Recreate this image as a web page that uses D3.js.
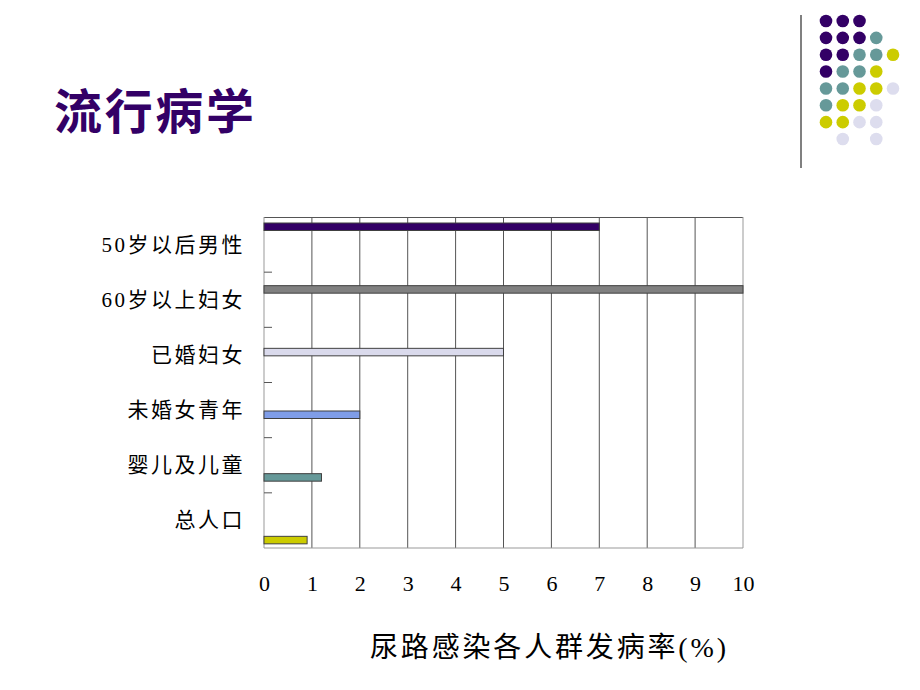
<!DOCTYPE html>
<html>
<head>
<meta charset="utf-8">
<script src="https://cdn.jsdelivr.net/npm/d3@7"></script>
<style>
  body { margin: 0; background: #fff; }
  svg { display: block; }
</style>
</head>
<body>
<svg id="chart" width="920" height="690"></svg>
<script>
// dados do gráfico (de cima para baixo)
const categorias = ["50岁以后男性", "60岁以上妇女", "已婚妇女", "未婚女青年", "婴儿及儿童", "总人口"];
const valores = [7, 10, 5, 2, 1.2, 0.9];
const coresBarras = ["#330066", "#808080", "#DADAEC", "#7F9DE8", "#669999", "#CCCC00"];
const ticksX = [0, 1, 2, 3, 4, 5, 6, 7, 8, 9, 10];

// padrão de bolinhas decorativo (linha, coluna, cor)
const bolinhasLinha = [0,0,0, 1,1,1,1, 2,2,2,2,2, 3,3,3,3, 4,4,4,4,4, 5,5,5,5, 6,6,6,6, 7,7];
const bolinhasColuna = [0,1,2, 0,1,2,3, 0,1,2,3,4, 0,1,2,3, 0,1,2,3,4, 0,1,2,3, 0,1,2,3, 1,3];
const bolinhasCor = ["P","P","P", "P","P","P","T", "P","P","T","T","Y", "P","T","T","Y",
                     "T","T","Y","Y","L", "T","Y","Y","L", "Y","Y","L","L", "L","L"];
const paleta = { P: "#330066", T: "#669999", Y: "#CCCC00", L: "#DDDDEE" };

const svg = d3.select("#chart");
const serif = "'Liberation Serif', 'Noto Sans CJK SC', serif";

// título
svg.append("text")
  .attr("x", 54).attr("y", 129)
  .attr("font-family", "'Noto Sans CJK SC', sans-serif")
  .attr("font-size", 48)
  .attr("font-weight", "bold")
  .attr("fill", "#330066")
  .attr("textLength", 200)
  .text("流行病学");

// linha vertical + bolinhas
svg.append("line")
  .attr("x1", 801).attr("x2", 801).attr("y1", 15).attr("y2", 168)
  .attr("stroke", "#808080").attr("stroke-width", 2);

const bx = d3.scaleLinear().domain([0, 4]).range([826, 893]);
const by = d3.scaleLinear().domain([0, 7]).range([21, 139]);

svg.append("g").selectAll("circle")
  .data(bolinhasLinha.map((r, i) => ({ r, c: bolinhasColuna[i], cor: bolinhasCor[i] })))
  .join("circle")
  .attr("cx", d => bx(d.c))
  .attr("cy", d => by(d.r))
  .attr("r", 6.3)
  .attr("fill", d => paleta[d.cor]);

// área do gráfico
const esq = 264, dir = 743, topo = 217, base = 548;

const x = d3.scaleLinear().domain([0, 10]).range([esq, dir]);
const y = d3.scaleBand().domain(categorias).range([topo, base]);
const ySerie = d3.scaleBand().domain(d3.range(categorias.length)).range([6, 51]);

// grade
svg.append("g").selectAll("line")
  .data(ticksX.slice(1, -1))
  .join("line")
  .attr("x1", d => x(d)).attr("x2", d => x(d))
  .attr("y1", topo).attr("y2", base)
  .attr("stroke", "#555").attr("stroke-width", 1);

svg.append("line")
  .attr("x1", esq).attr("x2", dir).attr("y1", topo + 0.5).attr("y2", topo + 0.5)
  .attr("stroke", "#555");
svg.append("line")
  .attr("x1", dir).attr("x2", dir).attr("y1", topo).attr("y2", base)
  .attr("stroke", "#999");
svg.append("line")
  .attr("x1", esq).attr("x2", dir).attr("y1", base).attr("y2", base)
  .attr("stroke", "#999");
svg.append("line")
  .attr("x1", esq).attr("x2", esq).attr("y1", topo).attr("y2", base)
  .attr("stroke", "#999");

// marcas no eixo esquerdo
svg.append("g").selectAll("line")
  .data(categorias.slice(1))
  .join("line")
  .attr("x1", esq).attr("x2", esq + 8)
  .attr("y1", d => y(d)).attr("y2", d => y(d))
  .attr("stroke", "#555");

// barras
svg.append("g").selectAll("rect")
  .data(categorias.map((c, i) => ({ c, v: valores[i], i })))
  .join("rect")
  .attr("x", x(0))
  .attr("y", d => y(d.c) + ySerie(d.i))
  .attr("width", d => x(d.v) - x(0))
  .attr("height", ySerie.bandwidth())
  .attr("fill", d => coresBarras[d.i])
  .attr("stroke", "#404040")
  .attr("stroke-width", 1);

// rótulos das categorias (números separados para ficarem em serifa)
const rotulos = svg.append("g").selectAll("text")
  .data(categorias)
  .join("text")
  .attr("x", 245)
  .attr("y", d => y(d) + y.bandwidth() / 2 + 7)
  .attr("text-anchor", "end")
  .attr("font-size", 21)
  .attr("letter-spacing", 2.5)
  .attr("fill", "#000");

rotulos.each(function (d) {
  const m = d.match(/^(\d*)(.*)$/);
  const t = d3.select(this);
  if (m[1]) t.append("tspan").attr("font-family", "'Liberation Serif', serif").text(m[1]);
  t.append("tspan").attr("font-family", "'Noto Sans CJK SC', sans-serif").text(m[2]);
});

// eixo x
const eixoX = svg.append("g")
  .attr("transform", `translate(0,${base + 35})`)
  .call(d3.axisBottom(x).tickValues(ticksX).tickSize(0).tickPadding(0));
eixoX.select(".domain").remove();
eixoX.selectAll("text")
  .attr("font-family", serif)
  .attr("font-size", 22)
  .attr("fill", "#000")
  .attr("dy", "0.35em");

// título do eixo
svg.append("text")
  .attr("x", 370).attr("y", 657)
  .attr("font-family", serif)
  .attr("font-size", 28)
  .attr("fill", "#000")
  .attr("textLength", 356)
  .attr("lengthAdjust", "spacing")
  .text("尿路感染各人群发病率(%)");
</script>
</body>
</html>
